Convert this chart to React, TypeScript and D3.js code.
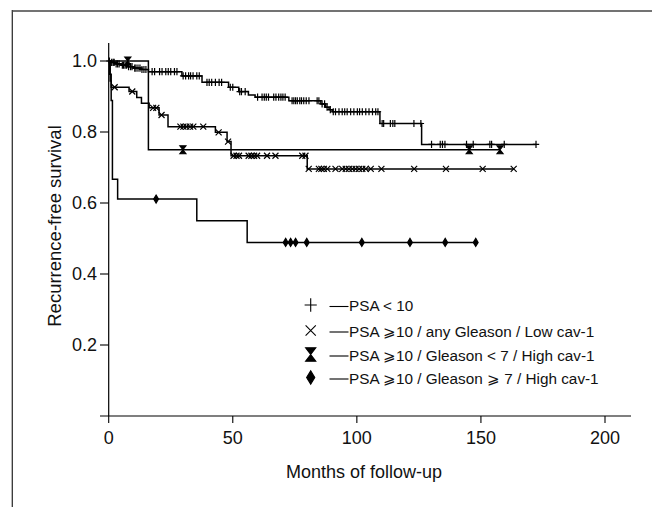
import React from "react";
import * as d3 from "d3";

// ---------- data ----------
const seriesNames = [
  "PSA < 10",
  "PSA ⩾10 / any Gleason / Low cav-1",
  "PSA ⩾10 / Gleason < 7 / High cav-1",
  "PSA ⩾10 / Gleason ⩾ 7 / High cav-1",
];
const seriesSymbols = ["plus", "cross", "hourglass", "diamond"];

const xTicks = [0, 50, 100, 150, 200];
const yTicks = [0.2, 0.4, 0.6, 0.8, 1.0];
const xTitle = "Months of follow-up";
const yTitle = "Recurrence-free survival";

// PSA < 10
const psaLowEventTimes = [0.8, 2.5, 5, 7.5, 10, 13, 16, 29.5, 37.6, 48.3, 52.4, 56.3, 59, 72.6, 85.5, 87.4, 88.8, 90.1, 109.3, 126.1];
const psaLowSurvival = [0.996, 0.992, 0.988, 0.984, 0.98, 0.976, 0.97, 0.958, 0.94, 0.926, 0.914, 0.904, 0.898, 0.888, 0.879, 0.87, 0.863, 0.857, 0.824, 0.765];
const psaLowCensored = [
  0.3, 1.2, 1.8, 2.2, 3, 3.6, 4.2, 5.5, 6, 6.6, 7.2, 8, 8.8, 9.4, 10.5, 11, 11.8, 12.6, 13.4, 14.2, 15,
  17.5, 18.5, 20.5, 21.5, 23, 24, 25, 26.5, 27.5,
  30, 31, 32.2, 33, 34, 35.5, 36.5,
  39.6, 40.5, 41.5, 43, 44.5, 45.5,
  49, 50, 52.8, 53.5, 55,
  60, 61.8, 62.7, 63.5, 64.4, 66.5, 67.4, 68.5, 69.4, 70.2, 71.1,
  73.9, 74.6, 75.3, 76, 77, 77.7, 78.6, 79.6, 80.7, 84, 84.7, 86, 87, 88, 89.3,
  90.5, 91.4, 92.8, 94.1, 95.1, 96.1, 97.5, 98.8, 100.2, 101.1, 102.2, 103.6, 104.9, 106.3, 107.6, 108.5,
  110.2, 110.8, 113.5, 114.5, 115.3, 123, 125.8,
  130.1, 133.6, 134.5, 135.5, 144.2, 146.9, 153.6, 154.3, 159.4, 172.2,
];

// PSA >=10 / any Gleason / Low cav-1
const lowCavEventTimes = [0.4, 1.0, 8.2, 11.3, 13.2, 16.3, 20.3, 23.9, 43, 47.7, 49.3, 80];
const lowCavSurvival = [0.963, 0.926, 0.914, 0.897, 0.881, 0.868, 0.848, 0.815, 0.799, 0.773, 0.733, 0.696];
const lowCavCensored = [
  2.4, 9.5, 17.9, 19.2, 21.3, 28.9, 30.1, 31.3, 32.8, 34.1, 38.1, 44.3, 48.1,
  50.3, 51.5, 52.5, 56.4, 57.5, 58.6, 59.8, 63.8, 67.2, 78, 79.3,
  80.6, 84.7, 85.7, 86.7, 88.1, 91.4, 94.1, 95.5, 96.8, 98.2, 99.5, 100.9, 102.2, 103.6, 105.6,
  109.9, 123.1, 135.9, 150.7, 163.2,
];

// PSA >=10 / Gleason < 7 / High cav-1
const highCavLowGlEventTimes = [16.0];
const highCavLowGlSurvival = [0.75];
const highCavLowGlCensored = [7.7, 29.9, 145.3, 157.7];

// PSA >=10 / Gleason >= 7 / High cav-1
const highCavHighGlEventTimes = [0.6, 1.0, 1.5, 3.6, 35.5, 55.8];
const highCavHighGlSurvival = [0.944, 0.889, 0.667, 0.611, 0.55, 0.489];
const highCavHighGlCensored = [19.1, 71.3, 73.3, 75.3, 79.8, 102, 121.4, 135.6, 147.9];

const seriesEvents = [psaLowEventTimes, lowCavEventTimes, highCavLowGlEventTimes, highCavHighGlEventTimes];
const seriesSurvival = [psaLowSurvival, lowCavSurvival, highCavLowGlSurvival, highCavHighGlSurvival];
const seriesCensored = [psaLowCensored, lowCavCensored, highCavLowGlCensored, highCavHighGlCensored];

// ---------- layout ----------
const W = 652;
const H = 507;
const FONT = "'Liberation Sans', Arial, Helvetica, sans-serif";

const x = d3.scaleLinear().domain([0, 200]).range([108.7, 605]);
const y = d3.scaleLinear().domain([0, 1]).range([416, 61]);

function survAt(times: number[], surv: number[], t: number) {
  let s = 1;
  for (let i = 0; i < times.length; i++) {
    if (times[i] < t) s = surv[i];
  }
  return s;
}

function symbolPath(kind: string, cx: number, cy: number, scale = 1) {
  const p = d3.path();
  if (kind === "plus") {
    const h = 3.6 * scale, w = 3.2 * scale;
    p.moveTo(cx - w, cy); p.lineTo(cx + w, cy);
    p.moveTo(cx, cy - h); p.lineTo(cx, cy + h);
  } else if (kind === "cross") {
    const r = 3 * scale;
    p.moveTo(cx - r, cy - r); p.lineTo(cx + r, cy + r);
    p.moveTo(cx - r, cy + r); p.lineTo(cx + r, cy - r);
  } else if (kind === "hourglass") {
    const w = 3 * scale, h = 4 * scale;
    p.moveTo(cx - w, cy - h); p.lineTo(cx + w, cy - h); p.lineTo(cx, cy);
    p.lineTo(cx + w, cy + h); p.lineTo(cx - w, cy + h); p.lineTo(cx, cy); p.closePath();
  } else {
    const w = 2.4 * scale, h = 4 * scale;
    p.moveTo(cx, cy - h); p.lineTo(cx + w, cy); p.lineTo(cx, cy + h); p.lineTo(cx - w, cy); p.closePath();
  }
  return p.toString();
}

const filled = (k: string) => k === "hourglass" || k === "diamond";

export default function App() {
  const line = d3
    .line<[number, number]>()
    .x((d) => x(d[0]))
    .y((d) => y(d[1]))
    .curve(d3.curveStepAfter);

  const fmt = d3.format(".1f");

  return (
    <svg
      width={W}
      height={H}
      viewBox={`0 0 ${W} ${H}`}
      style={{ position: "absolute", left: 0, top: 0, background: "#fff" }}
      fontFamily={FONT}
    >
      <rect width={W} height={H} fill="#fff" />
      {/* outer frame (cropped) */}
      <line x1={12.3} x2={12.3} y1={10} y2={H} stroke="#333" strokeWidth={1.3} />
      <line x1={12} x2={W} y1={11} y2={11} stroke="#444" strokeWidth={1.6} />

      {/* axes */}
      <line x1={x(0)} x2={x(0)} y1={43} y2={y(0)} stroke="#000" strokeWidth={1.2} />
      <line x1={100} x2={631} y1={y(0)} y2={y(0)} stroke="#000" strokeWidth={1.2} />
      {yTicks.map((t) => (
        <g key={"y" + t}>
          <line x1={100} x2={x(0)} y1={y(t)} y2={y(t)} stroke="#000" strokeWidth={1.1} />
          <text x={97} y={y(t)} dy="0.36em" textAnchor="end" fontSize={18} fill="#111">
            {fmt(t)}
          </text>
        </g>
      ))}
      {xTicks.map((t) => (
        <g key={"x" + t}>
          <line x1={x(t)} x2={x(t)} y1={y(0)} y2={y(0) + 7} stroke="#000" strokeWidth={1.1} />
          <text x={x(t)} y={444} textAnchor="middle" fontSize={18} fill="#111">
            {t}
          </text>
        </g>
      ))}
      <text x={364} y={478} textAnchor="middle" fontSize={18} fill="#111">
        {xTitle}
      </text>
      <text
        transform={`translate(61,226) rotate(-90)`}
        textAnchor="middle"
        fontSize={18.5}
        fill="#111"
      >
        {yTitle}
      </text>

      {/* curves */}
      {seriesNames.map((name, i) => {
        const ev = seriesEvents[i];
        const sv = seriesSurvival[i];
        const cs = seriesCensored[i];
        const end = Math.max(ev[ev.length - 1], cs[cs.length - 1]);
        const pts: [number, number][] = [[0, 1]];
        ev.forEach((t, j) => pts.push([t, sv[j]]));
        pts.push([end, sv[sv.length - 1]]);
        const kind = seriesSymbols[i];
        return (
          <g key={name}>
            <path d={line(pts) || ""} fill="none" stroke="#000" strokeWidth={1.5} />
            {cs.map((t, j) => (
              <path
                key={j}
                d={symbolPath(kind, x(t), y(survAt(ev, sv, t)))}
                fill={filled(kind) ? "#000" : "none"}
                stroke="#000"
                strokeWidth={1.2}
              />
            ))}
          </g>
        );
      })}

      {/* legend */}
      {seriesNames.map((name, i) => {
        const rowY = [305, 330.5, 354.5, 377.5][i];
        const kind = seriesSymbols[i];
        const sc = kind === "plus" ? 1.9 : 1.7;
        return (
          <g key={"lg" + i}>
            <path
              d={symbolPath(kind, 310.7, rowY, sc)}
              fill={filled(kind) ? "#000" : "none"}
              stroke="#000"
              strokeWidth={1.1}
            />
            <line x1={329.5} x2={348.5} y1={rowY + 1.5} y2={rowY + 1.5} stroke="#000" strokeWidth={1.1} />
            <text x={349} y={rowY + 6} fontSize={15.3} fill="#111">
              {name}
            </text>
          </g>
        );
      })}
    </svg>
  );
}
